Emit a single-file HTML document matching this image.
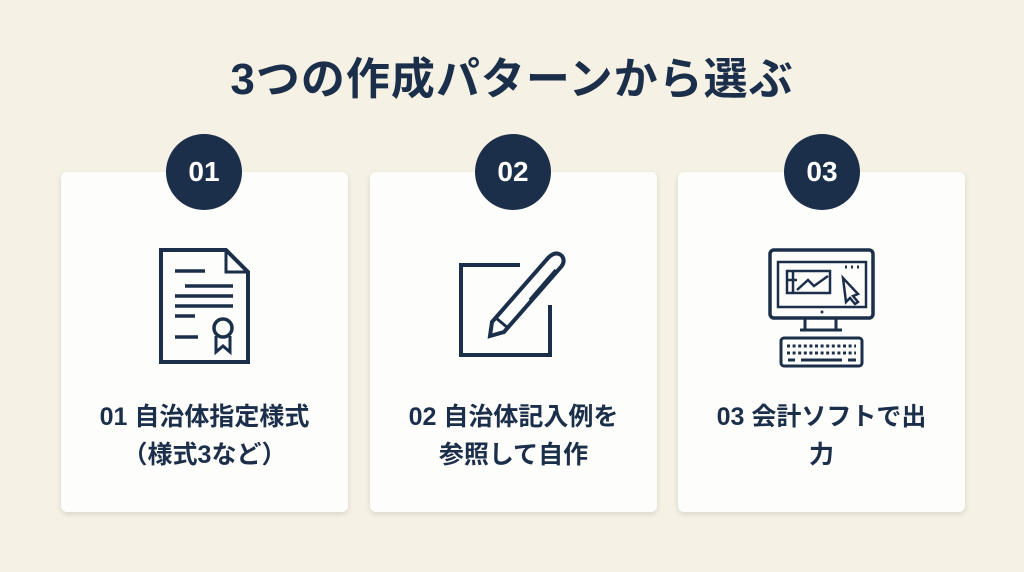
<!DOCTYPE html>
<html><head><meta charset="utf-8"><style>
body{margin:0;width:1024px;height:572px;background:#f5f1e4;font-family:"Liberation Sans","Noto Sans CJK JP",sans-serif;overflow:hidden;position:relative;color:#1c2f4a}
.title{position:absolute;top:53px;left:0;width:1024px;text-align:center;font-size:44px;font-weight:bold;letter-spacing:1px;line-height:54px}
.card{position:absolute;top:172px;width:287px;height:340px;background:#fdfdfc;border-radius:6px;box-shadow:0 2px 6px rgba(0,0,0,0.12)}
.num{position:absolute;top:134px;width:76px;height:76px;border-radius:50%;background:#1c2f4a;color:#fff;font-size:28px;font-weight:bold;text-align:center;line-height:76px}
.lbl{position:absolute;top:398px;width:287px;text-align:center;font-size:25px;font-weight:bold;line-height:38px}
svg{position:absolute;top:0;left:0}
</style></head><body>
<div class="title">3つの作成パターンから選ぶ</div>
<div class="card" style="left:61px"></div>
<div class="card" style="left:370px"></div>
<div class="card" style="left:678px"></div>
<div class="num" style="left:166px">01</div>
<div class="num" style="left:475px">02</div>
<div class="num" style="left:784px">03</div>
<div class="lbl" style="left:61px">01 自治体指定様式<br>（様式3など）</div>
<div class="lbl" style="left:370px">02 自治体記入例を<br>参照して自作</div>
<div class="lbl" style="left:678px">03 会計ソフトで出<br>力</div>
<svg width="1024" height="572" fill="none" stroke="#1c2f4a" stroke-width="4">
<path d="M161 250 H226 L248 272 V362 H161 Z"/>
<path d="M226 250 V272 H248" stroke-width="3"/>
<path d="M175 271H205 M185 286H233 M175 296H233 M175 306H233 M175 316H195 M175 337H198" stroke-width="3.5"/>
<circle cx="223" cy="328" r="9" stroke-width="3.5"/>
<path d="M216 336 V352 L223 346 L230 352 V336" stroke-width="3"/>
<path d="M520 265 H461 V355 H550 V305"/>
<path d="M492 322 L548 258 Q556 250 562 256 Q566 262 560 268 L504 332 L490 336 Z" stroke-width="4"/>
<path d="M496 318 L508 328" stroke-width="3"/>
<path d="M556 270 L530 300" stroke-width="3.5"/>
<rect x="770" y="250" width="103" height="68" rx="4" stroke-width="3.5"/>
<path d="M778 262 H866 V307 H778 Z" stroke-width="2.5"/>
<path d="M787 271 H830 V293 H787 Z M787 280 H797 M793 271 V293 M797 290 L808 280 L814 286 L828 276" stroke-width="2.5"/>
<path d="M843 278 L858 294 L853 296 L858 302 L855 304 L850 298 L846 302 Z" stroke-width="2.5"/>
<path d="M845 267h2 M851 267h2 M857 267h2" stroke-width="3"/>
<path d="M805 318 V330 M836 318 V330 M800 330 H842" stroke-width="3"/>
<rect x="781" y="338" width="81" height="28" rx="3" stroke-width="3"/>
<path d="M787 346H856 M787 353H856" stroke-width="3" stroke-dasharray="3 2.6"/>
<path d="M788 360H795 M801 360H842 M848 360H856" stroke-width="3"/>
<circle cx="822" cy="312" r="1.5" fill="#1c2f4a" stroke="none"/>
</svg>
</body></html>
